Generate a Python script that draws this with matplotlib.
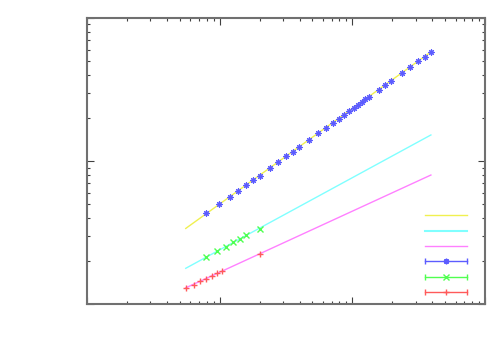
import numpy as np
import matplotlib
matplotlib.use('Agg')
import matplotlib.pyplot as plt

# data (log-log, no tick labels)
blue_x = [7.94, 9.88, 11.9, 13.8, 15.7, 17.8, 20.0, 23.8, 27.6, 31.7, 35.6, 39.5,
          47.5, 55.3, 63.4, 71.1, 78.9, 86.6, 93.8, 103, 110, 118, 125, 133,
          158, 177, 196, 236, 274, 315, 354, 393]
blue_y = [0.433, 0.498, 0.563, 0.619, 0.679, 0.733, 0.789, 0.889, 0.989, 1.079, 1.162, 1.253,
          1.409, 1.562, 1.70, 1.835, 1.967, 2.108, 2.238, 2.359, 2.476, 2.60, 2.70, 2.80,
          3.12, 3.38, 3.63, 4.12, 4.52, 4.98, 5.36, 5.78]

green_x = [7.94, 9.54, 11.1, 12.7, 14.3, 15.9, 20.0]
green_y = [0.213, 0.235, 0.252, 0.272, 0.286, 0.302, 0.336]

red_x = [5.55, 6.38, 7.16, 7.94, 8.81, 9.54, 10.35, 20.0]
red_y = [0.130, 0.137, 0.145, 0.151, 0.158, 0.164, 0.170, 0.223]

# fitted lines
fit_x = [5.55, 391]
yellow_y = [0.338, 5.78]
cyan_y = [0.178, 1.52]
magenta_y = [0.130, 0.798]

c_yellow = '#f0f050'
c_cyan = '#80ffff'
c_magenta = '#ff80ff'
c_blue = '#5c5cff'
c_green = '#50ff50'
c_red = '#ff5a5a'

fig = plt.figure(figsize=(5, 3.5), dpi=100)
ax = fig.add_axes([0.174, 0.131, 0.796, 0.818])

ax.plot(fit_x, yellow_y, color=c_yellow, lw=1)
ax.plot(fit_x, cyan_y, color=c_cyan, lw=1)
ax.plot(fit_x, magenta_y, color=c_magenta, lw=1)

ax.plot(blue_x, blue_y, ls='none', marker=(8, 2, 0), ms=4.5, mew=0.8, color=c_blue)
ax.plot(green_x, green_y, ls='none', marker='x', ms=4, mew=1, color=c_green)
ax.plot(red_x, red_y, ls='none', marker='+', ms=5, mew=1, color=c_red)

ax.set_xscale('log')
ax.set_yscale('log')
ax.set_xlim(1, 1000)
ax.set_ylim(0.1, 10)

ax.tick_params(which='both', direction='in', top=True, right=True,
               labelbottom=False, labelleft=False, color='#404040')
ax.tick_params(which='major', length=5, width=0.8)
ax.tick_params(which='minor', length=2.5, width=0.8)
for s in ax.spines.values():
    s.set_color('#707070')
    s.set_linewidth(1.5)

# gnuplot style key (no text)
kx = [0.849, 0.954]
rows = [0.311, 0.256, 0.203, 0.149, 0.095, 0.043]
t = ax.transAxes
ax.plot(kx, [rows[0]] * 2, color=c_yellow, lw=1, transform=t)
ax.plot(kx, [rows[1]] * 2, color=c_cyan, lw=1.5, transform=t)
ax.plot(kx, [rows[2]] * 2, color=c_magenta, lw=1, transform=t)
for r, c, m in zip(rows[3:], [c_blue, c_green, c_red], [(8, 2, 0), 'x', '+']):
    ax.plot(kx, [r] * 2, color=c, lw=1, transform=t)
    ax.plot(kx, [r] * 2, ls='none', marker='|', ms=5, mew=1, color=c, transform=t)
    ax.plot([sum(kx) / 2], [r], ls='none', marker=m, ms=4, mew=1, color=c, transform=t)

plt.savefig('out.png', dpi=100)
